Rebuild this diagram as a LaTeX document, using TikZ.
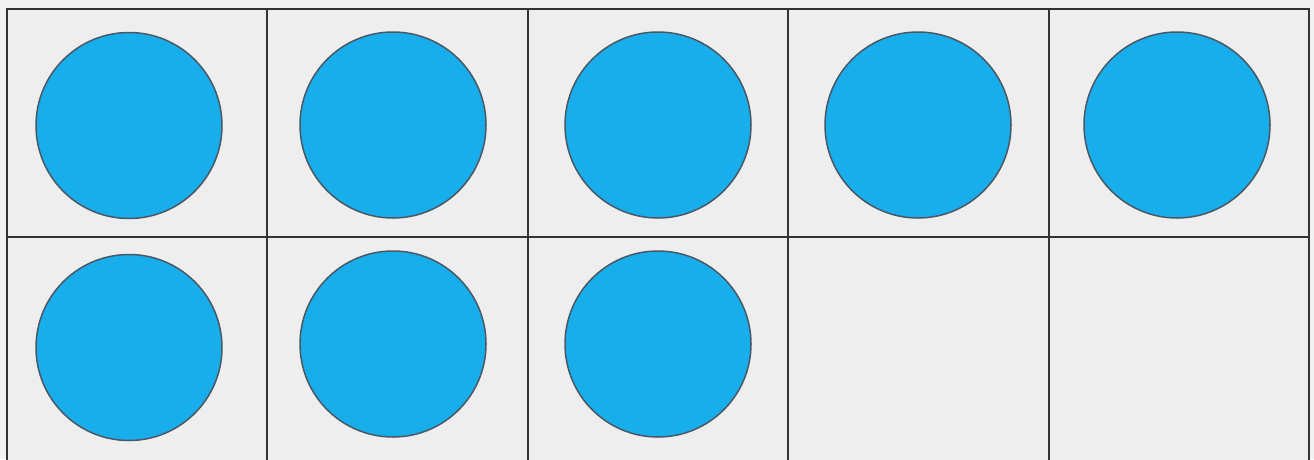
\documentclass[tikz,border=0pt]{standalone}
\definecolor{cellbg}{HTML}{EEEEEE}
\definecolor{outerbg}{HTML}{F2F2F2}
\definecolor{gridline}{HTML}{333333}
\definecolor{dotfill}{HTML}{17AEEB}
\definecolor{dotline}{HTML}{4A5866}
\tikzset{
  cellbox/.style={draw=gridline, line width=2pt, fill=cellbg, minimum width=260.4pt, minimum height=228pt, inner sep=0pt, outer sep=0pt},
  counter/.style={circle, draw=dotline, line width=1.5pt, fill=dotfill, minimum size=186pt, inner sep=0pt}
}
\begin{document}
\begin{tikzpicture}[x=1pt, y=-1pt]
\useasboundingbox (0,0) rectangle (1314,459);
\clip (0,0) rectangle (1314,459);
\fill[outerbg] (0,0) rectangle (1314,459);
% cells
\foreach \c [count=\i] in {137.2,397.6,658,918.4,1178.8}{
  \node[cellbox] (t\i) at (\c,122.5) {};
  \node[cellbox] (b\i) at (\c,350.5) {};
}
% counters, top row
\node[counter] (c1) at (129,125.5) {};
\node[counter] (c2) at (393,125) {};
\node[counter] (c3) at (658,125) {};
\node[counter] (c4) at (918,125) {};
\node[counter] (c5) at (1177,125) {};
% counters, bottom row
\node[counter] (c6) at (129,347.5) {};
\node[counter] (c7) at (393,344) {};
\node[counter] (c8) at (658,344) {};
\end{tikzpicture}
\end{document}
